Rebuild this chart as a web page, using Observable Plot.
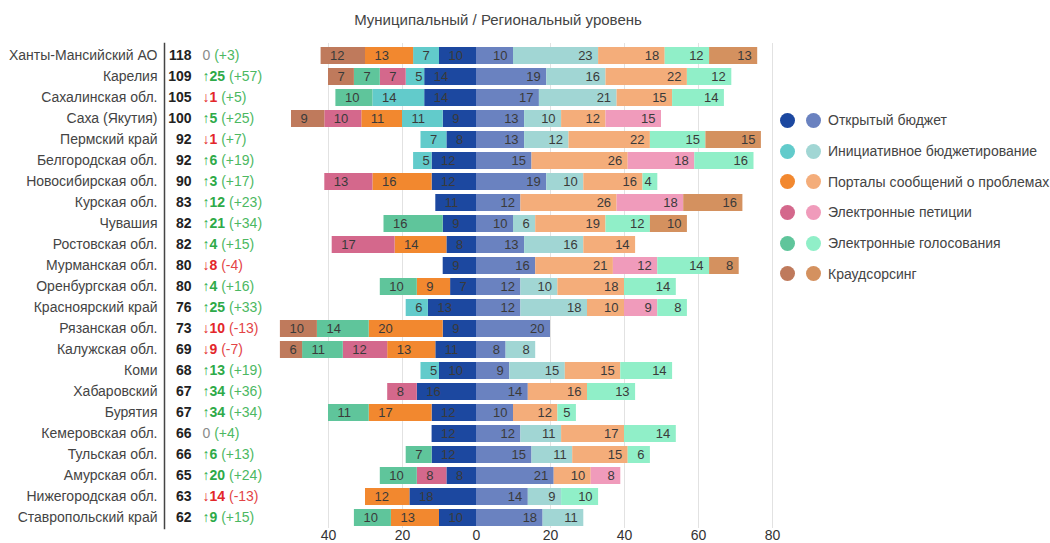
<!DOCTYPE html>
<html>
<head>
<meta charset="utf-8">
<script src="https://cdn.jsdelivr.net/npm/d3@7"></script>
<script src="https://cdn.jsdelivr.net/npm/@observablehq/plot@0.6"></script>
<style>
  body { margin: 0; background: #fff; font-family: "Liberation Sans", Arial, sans-serif; overflow: hidden; }
  #wrap { position: relative; width: 1050px; height: 543px; overflow: hidden; }
  #title { position: absolute; left: 0; top: 11px; width: 996px; text-align: center; font-size: 15px; line-height: 18px; color: #444; }
  #chart { position: absolute; left: 0; top: 36px; }
  #legend { position: absolute; left: 780px; top: 105px; }
  .lrow { height: 30.7px; display: flex; align-items: center; font-size: 14px; color: #444; }
  .dot { width: 15px; height: 15px; border-radius: 50%; margin-right: 11px; flex: none; }
  .dot + .dot { margin-right: 7px; }
</style>
</head>
<body>
<div id="wrap">
  <div id="title">Муниципальный / Региональный уровень</div>
  <div id="chart"></div>
  <div id="legend"></div>
</div>
<script>
const regions = ["Ханты-Мансийский АО","Карелия","Сахалинская обл.","Саха (Якутия)","Пермский край","Белгородская обл.","Новосибирская обл.","Курская обл.","Чувашия","Ростовская обл.","Мурманская обл.","Оренбургская обл.","Красноярский край","Рязанская обл.","Калужская обл.","Коми","Хабаровский","Бурятия","Кемеровская обл.","Тульская обл.","Амурская обл.","Нижегородская обл.","Ставропольский край"];
const totals = [118,109,105,100,92,92,90,83,82,82,80,80,76,73,69,68,67,67,66,66,65,63,62];
const rankChange = [0,25,-1,5,-1,6,3,12,21,4,-8,4,25,-10,-9,13,34,34,0,6,20,-14,9];
const scoreChange = [3,57,5,25,7,19,17,23,34,15,-4,16,33,-13,-7,19,36,34,4,13,24,-13,15];

const series = ["Открытый бюджет","Инициативное бюджетирование","Порталы сообщений о проблемах","Электронные петиции","Электронные голосования","Краудсорсинг"];
const darkColors = ["#1c48a0","#62cbcb","#f2882f","#d4688c","#5fc59b","#bf7a5c"];
const lightColors = ["#6a82c0","#a1d6d4","#f4ad7a","#f09bbb","#90efc8","#d4915f"];

// Municipal level (drawn to the left)
const munOpenBudget = [10,14,14,9,8,12,12,11,9,8,9,7,13,9,11,10,16,12,12,12,8,18,10];
const munInitiative = [7,5,14,11,7,5,0,0,0,0,0,0,6,0,0,5,0,0,0,0,0,0,0];
const munPortals    = [13,0,0,11,0,0,16,0,0,14,0,9,0,20,13,0,0,17,0,0,0,12,13];
const munPetitions  = [0,7,0,10,0,0,13,0,0,17,0,0,0,0,12,0,8,0,0,0,8,0,0];
const munVoting     = [0,7,10,0,0,0,0,0,16,0,0,10,0,14,11,0,0,11,0,7,10,0,10];
const munCrowd      = [12,7,0,9,0,0,0,0,0,0,0,0,0,10,6,0,0,0,0,0,0,0,0];

// Regional level (drawn to the right)
const regOpenBudget = [10,19,17,13,13,15,19,12,10,13,16,12,12,20,8,9,14,10,12,15,21,14,18];
const regInitiative = [23,16,21,10,12,0,10,0,6,16,0,10,18,0,8,15,0,0,11,11,0,9,11];
const regPortals    = [18,22,15,12,22,26,16,26,19,14,21,18,10,0,0,15,16,12,17,15,10,0,0];
const regPetitions  = [0,0,0,15,0,18,0,18,0,0,12,0,9,0,0,0,0,0,0,0,8,0,0];
const regVoting     = [12,12,14,0,15,16,4,0,12,0,14,14,8,0,0,14,13,5,14,6,0,10,0];
const regCrowd      = [13,0,0,0,15,0,0,16,10,0,8,0,0,0,0,0,0,0,0,0,0,0,0];

const xTicks = [-40,-20,0,20,40,60,80];

const mun = [munOpenBudget, munInitiative, munPortals, munPetitions, munVoting, munCrowd];
const reg = [regOpenBudget, regInitiative, regPortals, regPetitions, regVoting, regCrowd];

const rowsM = [], rowsR = [];
regions.forEach((r, i) => {
  mun.forEach((arr, j) => { if (arr[i]) rowsM.push({region: r, key: "M" + j, value: -arr[i]}); });
  reg.forEach((arr, j) => { if (arr[i]) rowsR.push({region: r, key: "R" + j, value: arr[i]}); });
});
const rows = rowsM.concat(rowsR);
const colorDomain = series.map((s, j) => "M" + j).concat(series.map((s, j) => "R" + j));
const colorRange = darkColors.concat(lightColors);

const changeRows = regions.map((r, i) => {
  const c = rankChange[i], t = scoreChange[i];
  const main = c === 0 ? "0" : (c > 0 ? "↑" + c : "↓" + Math.abs(c));
  const paren = "(" + (t > 0 ? "+" + t : t < 0 ? "-" + Math.abs(t) : "0") + ")";
  return {region: r, main, paren, c, t, label: main + " " + paren};
});

const font = "'Liberation Sans', Arial, sans-serif";
const svg = Plot.plot({
  width: 1050,
  height: 505,
  marginLeft: 164,
  marginRight: 0,
  marginTop: 7,
  marginBottom: 13,
  x: {domain: [-40, 80], range: [328, 772], label: null},
  y: {domain: regions, range: [6.4, 494.6], paddingInner: 0.2, paddingOuter: 0.2, align: 0.5, axis: null, label: null},
  color: {domain: colorDomain, range: colorRange},
  style: {fontFamily: font, fontSize: "14px", color: "#333", background: "transparent", overflow: "visible"},
  marks: [
    Plot.gridX({ticks: [-40, -20, 20, 40, 60, 80], stroke: "#e2e2e2", strokeOpacity: 1}),
    Plot.barX(rows, Plot.stackX({x: "value", y: "region", fill: "key"})),
    Plot.text(rowsM, Plot.stackX2({x: "value", y: "region", text: d => -d.value, textAnchor: "start", dx: 9, fill: "#3a3a3a", fontSize: 13})),
    Plot.text(rowsR, Plot.stackX2({x: "value", y: "region", text: d => d.value, textAnchor: "end", dx: -6, fill: "#3a3a3a", fontSize: 13})),
    Plot.axisX({ticks: xTicks, tickFormat: d => Math.abs(d), tickSize: 0, tickPadding: 2, fontSize: 14, fill: "#333", label: null}),
    Plot.frame({anchor: "left", stroke: "#444", strokeWidth: 1.5}),
    Plot.text(regions, {y: d => d, text: d => d, frameAnchor: "left", dx: -7, textAnchor: "end", fontSize: 14, fill: "#444"}),
    Plot.text(regions, {y: d => d, text: (d, i) => totals[i], frameAnchor: "left", dx: 27, textAnchor: "end", fontSize: 14, fontWeight: "bold", fill: "#222"}),
    Plot.text(changeRows, {y: "region", text: "label", frameAnchor: "left", dx: 38, textAnchor: "start", fontSize: 14, fill: "#454546"})
  ]
});

// Colour the two parts of each change label separately
const labelMap = new Map(changeRows.map(d => [d.label, d]));
d3.select(svg).selectAll("text").each(function() {
  const d = labelMap.get(this.textContent);
  if (!d || this.childElementCount) return;
  const t = d3.select(this);
  t.text(null);
  const mainColor = d.c > 0 ? "#2eaa48" : d.c < 0 ? "#e3262a" : "#8a8a8a";
  const parenColor = d.t >= 0 ? "#4cb862" : "#e34446";
  t.append("tspan").attr("font-weight", d.c === 0 ? "normal" : "bold").attr("fill", mainColor).text(d.main);
  t.append("tspan").attr("fill", parenColor).text(" " + d.paren);
});

document.getElementById("chart").appendChild(svg);

const legend = d3.select("#legend");
series.forEach((s, j) => {
  const row = legend.append("div").attr("class", "lrow");
  row.append("div").attr("class", "dot").style("background", darkColors[j]);
  row.append("div").attr("class", "dot").style("background", lightColors[j]);
  row.append("span").text(s);
});
</script>
</body>
</html>
